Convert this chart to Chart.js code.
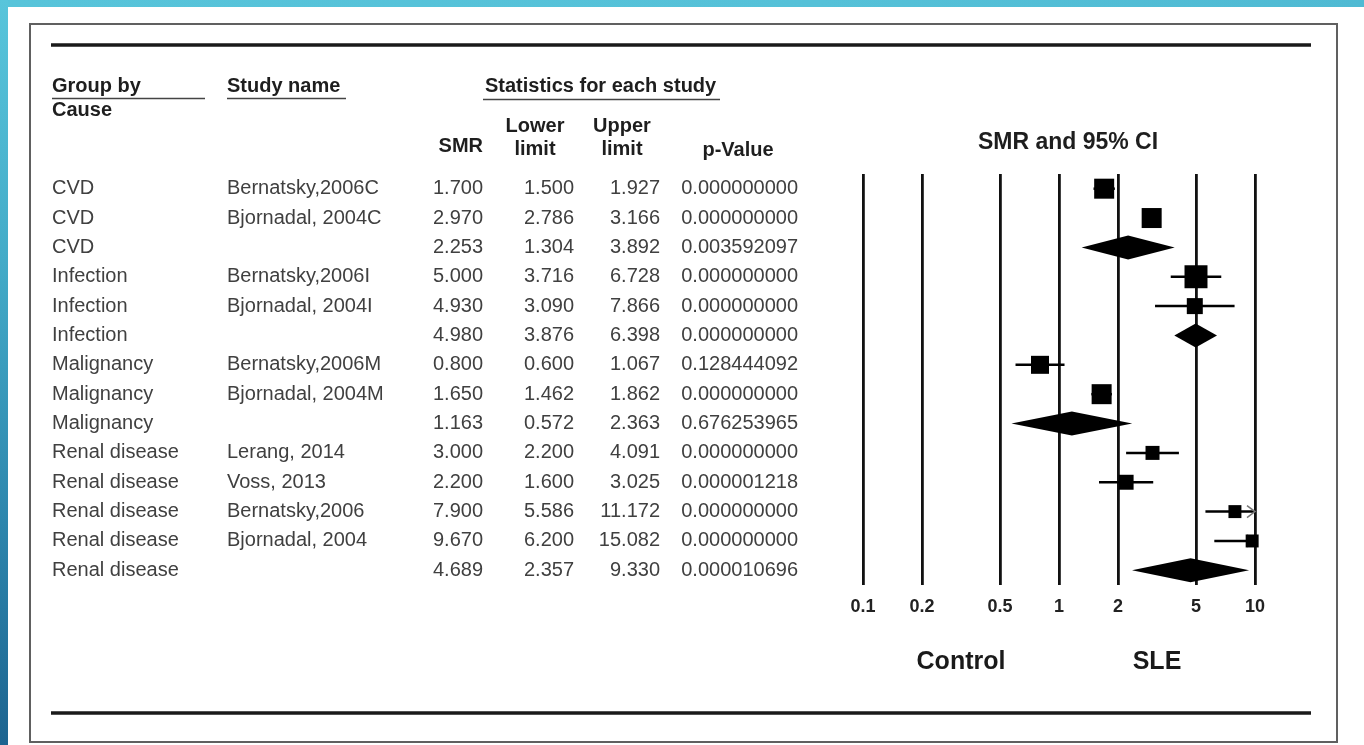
<!DOCTYPE html>
<html>
<head>
<meta charset="utf-8">
<title>SMR and 95% CI by cause</title>
<script src="https://cdn.jsdelivr.net/npm/chart.js@4.4.1/dist/chart.umd.min.js"></script>
<style>
  html, body { margin: 0; padding: 0; background: #ffffff; }
  body { width: 1364px; height: 745px; position: relative; overflow: hidden; }
  #topband { position: absolute; left: 0; top: 0; width: 1364px; height: 7px;
             background: linear-gradient(90deg, #57c4da, #55c1d8 60%, #4fbad3); }
  #sideband { position: absolute; left: 0; top: 0; width: 8px; height: 745px;
              background: linear-gradient(180deg, #58c5db 0%, #43abc8 35%, #2d86ad 70%, #1d6490 100%); }
  #frame { position: absolute; left: 29px; top: 23px; width: 1309px; height: 720px;
           border: 2px solid #606060; box-sizing: border-box; }
  #forest { position: absolute; left: 0; top: 0; }
</style>
</head>
<body>
<div id="topband"></div>
<div id="sideband"></div>
<div id="frame"></div>
<canvas id="forest" width="1364" height="745"></canvas>
<script>
// ---- study table ----
const causes = ['CVD', 'CVD', 'CVD', 'Infection', 'Infection', 'Infection',
  'Malignancy', 'Malignancy', 'Malignancy', 'Renal disease', 'Renal disease',
  'Renal disease', 'Renal disease', 'Renal disease'];
const studies = ['Bernatsky,2006C', 'Bjornadal, 2004C', '', 'Bernatsky,2006I',
  'Bjornadal, 2004I', '', 'Bernatsky,2006M', 'Bjornadal, 2004M', '', 'Lerang, 2014',
  'Voss, 2013', 'Bernatsky,2006', 'Bjornadal, 2004', ''];
const smr = [1.700, 2.970, 2.253, 5.000, 4.930, 4.980, 0.800, 1.650, 1.163,
  3.000, 2.200, 7.900, 9.670, 4.689];
const lowerLimit = [1.500, 2.786, 1.304, 3.716, 3.090, 3.876, 0.600, 1.462, 0.572,
  2.200, 1.600, 5.586, 6.200, 2.357];
const upperLimit = [1.927, 3.166, 3.892, 6.728, 7.866, 6.398, 1.067, 1.862, 2.363,
  4.091, 3.025, 11.172, 15.082, 9.330];
const pValues = ['0.000000000', '0.000000000', '0.003592097', '0.000000000',
  '0.000000000', '0.000000000', '0.128444092', '0.000000000', '0.676253965',
  '0.000000000', '0.000001218', '0.000000000', '0.000000000', '0.000010696'];
// relative study weights (null = pooled subgroup estimate, drawn as a diamond)
const weights = [1.00, 1.00, null, 1.32, 0.64, null, 0.81, 1.00, null,
  0.49, 0.56, 0.42, 0.42, null];
const tickValues = [0.1, 0.2, 0.5, 1, 2, 5, 10];
const sideLabels = ['Control', 'SLE'];

// ---- drawing constants ----
const FONT = '"Liberation Sans", Arial, Helvetica, sans-serif';
const BASE_BOX = 20;       // box side (px) for weight 1
const DIAMOND_H = 24;
const X_MIN = tickValues[0], X_MAX = tickValues[tickValues.length - 1];

const studyRows = smr.map((v, i) => i).filter(i => weights[i] !== null);
const boxPoints = studyRows.map(i => ({ x: smr[i], y: i }));
const boxRadius = studyRows.map(i => BASE_BOX * Math.sqrt(weights[i]) / Math.SQRT2);

const forestMarks = {
  id: 'forestMarks',
  beforeDatasetsDraw(chart) {
    const { ctx, scales: { x, y } } = chart;
    ctx.save();
    smr.forEach((v, i) => {
      const yc = y.getPixelForValue(i);
      if (weights[i] === null) {
        // pooled estimate diamond
        const xl = x.getPixelForValue(lowerLimit[i]);
        const xr = x.getPixelForValue(upperLimit[i]);
        const xc = x.getPixelForValue(v);
        ctx.fillStyle = '#000';
        ctx.beginPath();
        ctx.moveTo(xl, yc);
        ctx.lineTo(xc, yc - DIAMOND_H / 2);
        ctx.lineTo(xr, yc);
        ctx.lineTo(xc, yc + DIAMOND_H / 2);
        ctx.closePath();
        ctx.fill();
      } else {
        // confidence interval whisker, clipped to the axis range
        const x1 = x.getPixelForValue(Math.max(lowerLimit[i], X_MIN));
        const x2 = x.getPixelForValue(Math.min(upperLimit[i], X_MAX));
        ctx.strokeStyle = '#000';
        ctx.lineWidth = 2.5;
        ctx.beginPath();
        ctx.moveTo(x1, yc);
        ctx.lineTo(x2, yc);
        ctx.stroke();
        if (upperLimit[i] > X_MAX) {
          ctx.strokeStyle = '#777';
          ctx.lineWidth = 1.5;
          ctx.beginPath();
          ctx.moveTo(x2 - 8, yc - 6);
          ctx.lineTo(x2, yc);
          ctx.lineTo(x2 - 8, yc + 6);
          ctx.stroke();
        }
      }
    });
    ctx.restore();
  },
  afterDraw(chart) {
    const { ctx, scales: { x, y } } = chart;
    ctx.save();
    // horizontal rules
    ctx.strokeStyle = '#1a1a1a';
    ctx.lineWidth = 3.5;
    [45, 713].forEach(yy => {
      ctx.beginPath(); ctx.moveTo(51, yy); ctx.lineTo(1311, yy); ctx.stroke();
    });

    // column headers
    ctx.fillStyle = '#1e1e1e';
    ctx.textBaseline = 'middle';
    ctx.font = 'bold 20px ' + FONT;
    ctx.textAlign = 'left';
    ctx.fillText('Group by', 52, 86);
    ctx.fillText('Cause', 52, 110);
    ctx.fillText('Study name', 227, 86);
    ctx.fillText('Statistics for each study', 485, 86);
    ctx.textAlign = 'right';
    ctx.fillText('SMR', 483, 146);
    ctx.textAlign = 'center';
    ctx.fillText('Lower', 535, 126);
    ctx.fillText('limit', 535, 149);
    ctx.fillText('Upper', 622, 126);
    ctx.fillText('limit', 622, 149);
    ctx.fillText('p-Value', 738, 150);
    ctx.font = 'bold 23px ' + FONT;
    ctx.fillText('SMR and 95% CI', 1068, 143);

    // header underlines
    ctx.strokeStyle = '#444';
    ctx.lineWidth = 1.5;
    [[52, 205, 98.5], [227, 346, 98.5], [483, 720, 99.5]].forEach(([a, b, yy]) => {
      ctx.beginPath(); ctx.moveTo(a, yy); ctx.lineTo(b, yy); ctx.stroke();
    });

    // table rows
    ctx.fillStyle = '#404040';
    ctx.font = '20px ' + FONT;
    smr.forEach((v, i) => {
      const yc = y.getPixelForValue(i);
      ctx.textAlign = 'left';
      ctx.fillText(causes[i], 52, yc);
      ctx.fillText(studies[i], 227, yc);
      ctx.textAlign = 'right';
      ctx.fillText(v.toFixed(3), 483, yc);
      ctx.fillText(lowerLimit[i].toFixed(3), 574, yc);
      ctx.fillText(upperLimit[i].toFixed(3), 660, yc);
      ctx.fillText(pValues[i], 798, yc);
    });

    // favours labels under the axis
    ctx.fillStyle = '#1a1a1a';
    ctx.font = 'bold 25px ' + FONT;
    ctx.textAlign = 'center';
    ctx.fillText(sideLabels[0], 961, 662);
    ctx.fillText(sideLabels[1], 1157, 662);
    ctx.restore();
  }
};

new Chart(document.getElementById('forest'), {
  type: 'scatter',
  data: {
    datasets: [{
      data: boxPoints,
      pointStyle: 'rect',
      pointRadius: boxRadius,
      pointHoverRadius: boxRadius,
      backgroundColor: '#000',
      borderWidth: 0,
      clip: false
    }]
  },
  options: {
    responsive: false,
    animation: false,
    events: [],
    layout: { padding: { left: 863, right: 109, top: 174, bottom: 120 } },
    plugins: { legend: { display: false }, tooltip: { enabled: false } },
    scales: {
      x: {
        type: 'logarithmic',
        position: 'bottom',
        min: X_MIN,
        max: X_MAX,
        afterBuildTicks: s => { s.ticks = tickValues.map(v => ({ value: v })); },
        afterFit: s => { s.height = 40; },
        border: { display: false },
        grid: { color: '#111', lineWidth: 2.8, drawTicks: false },
        ticks: {
          color: '#222',
          font: { family: FONT, size: 18, weight: 'bold' },
          padding: 11,
          maxRotation: 0,
          autoSkip: false,
          callback: v => String(v)
        }
      },
      y: {
        type: 'linear',
        min: -0.5,
        max: smr.length - 0.5,
        reverse: true,
        display: false
      }
    }
  },
  plugins: [forestMarks]
});
</script>
</body>
</html>
